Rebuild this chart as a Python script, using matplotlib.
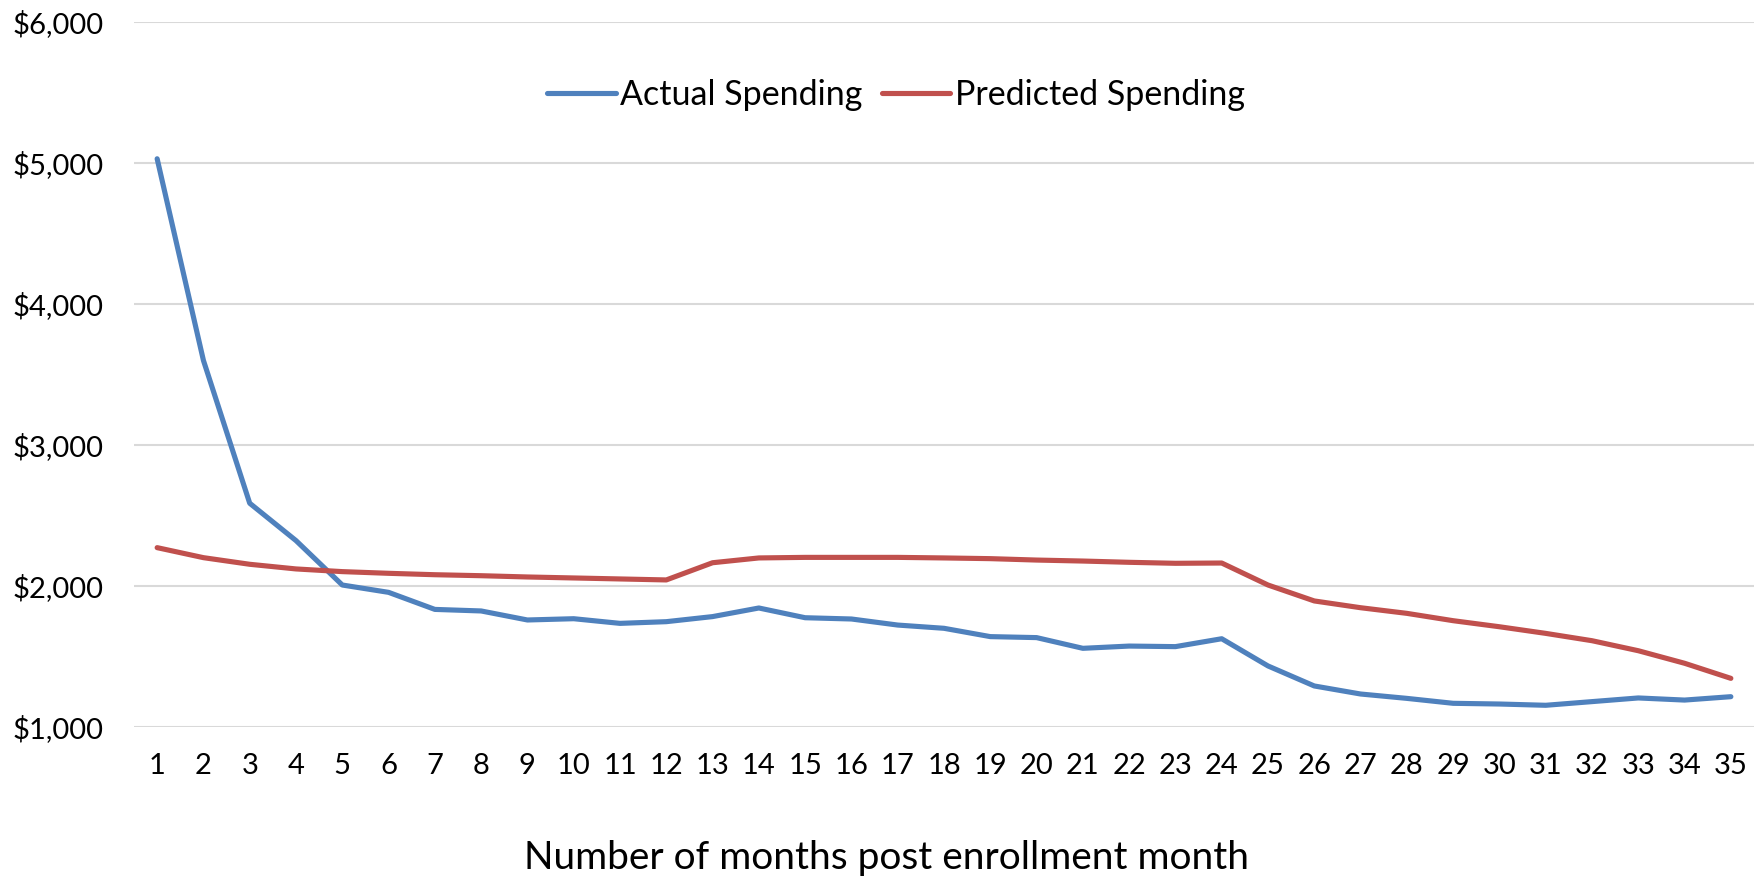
import matplotlib
matplotlib.use("Agg")
import matplotlib.pyplot as plt
from matplotlib.ticker import FuncFormatter

plt.rcParams['font.family'] = ['Lato', 'DejaVu Sans']

months = list(range(1, 36))
actual = [5030, 3600, 2587, 2322, 2007, 1955, 1834, 1823, 1759, 1768,
          1735, 1747, 1783, 1844, 1775, 1766, 1723, 1700, 1641, 1634,
          1558, 1574, 1570, 1626, 1433, 1291, 1234, 1203, 1168, 1163,
          1154, 1180, 1206, 1191, 1215]
predicted = [2272, 2201, 2154, 2121, 2102, 2090, 2080, 2073, 2064, 2057,
             2050, 2043, 2165, 2199, 2203, 2203, 2203, 2199, 2194, 2184,
             2177, 2168, 2161, 2163, 2007, 1894, 1846, 1806, 1754, 1711,
             1664, 1612, 1541, 1452, 1345]
y_ticks = [1000, 2000, 3000, 4000, 5000, 6000]
series_names = ["Actual Spending", "Predicted Spending"]
x_label = "Number of months post enrollment month"

fig = plt.figure(figsize=(17.57, 8.81), dpi=100)
ax = fig.add_axes([134/1757, 1-727/881, (1754-134)/1757, (727-22)/881])

ax.plot(months, actual, color="#4F81BD", lw=3.7, label=series_names[0],
        solid_capstyle="round", solid_joinstyle="round")
ax.plot(months, predicted, color="#C0504D", lw=3.7, label=series_names[1],
        solid_capstyle="round", solid_joinstyle="round")

ax.set_xlim(0.5, 35.5)
ax.set_ylim(1000, 6000)
ax.set_yticks(y_ticks)
ax.yaxis.set_major_formatter(FuncFormatter(lambda v, p: f"${v:,.0f}"))
ax.set_xticks(months)
ax.set_xticklabels([str(m) for m in months])
ax.grid(axis="y", color="#D9D9D9", lw=1.5)
ax.set_axisbelow(True)
for s in ax.spines.values():
    s.set_visible(False)
ax.tick_params(axis="both", length=0, labelsize=21)
ax.tick_params(axis="y", pad=22)
ax.tick_params(axis="x", pad=19)

fig.text(887/1757, 1-858/881, x_label, ha="center", va="center", fontsize=28)

leg = ax.legend(loc="center", bbox_to_anchor=(896/1757, 1-95/881),
                bbox_transform=fig.transFigure, ncol=2, frameon=False,
                fontsize=24.5, handlelength=2.0, handletextpad=0.12,
                columnspacing=0.6)

fig.savefig("out.png", dpi=100)
